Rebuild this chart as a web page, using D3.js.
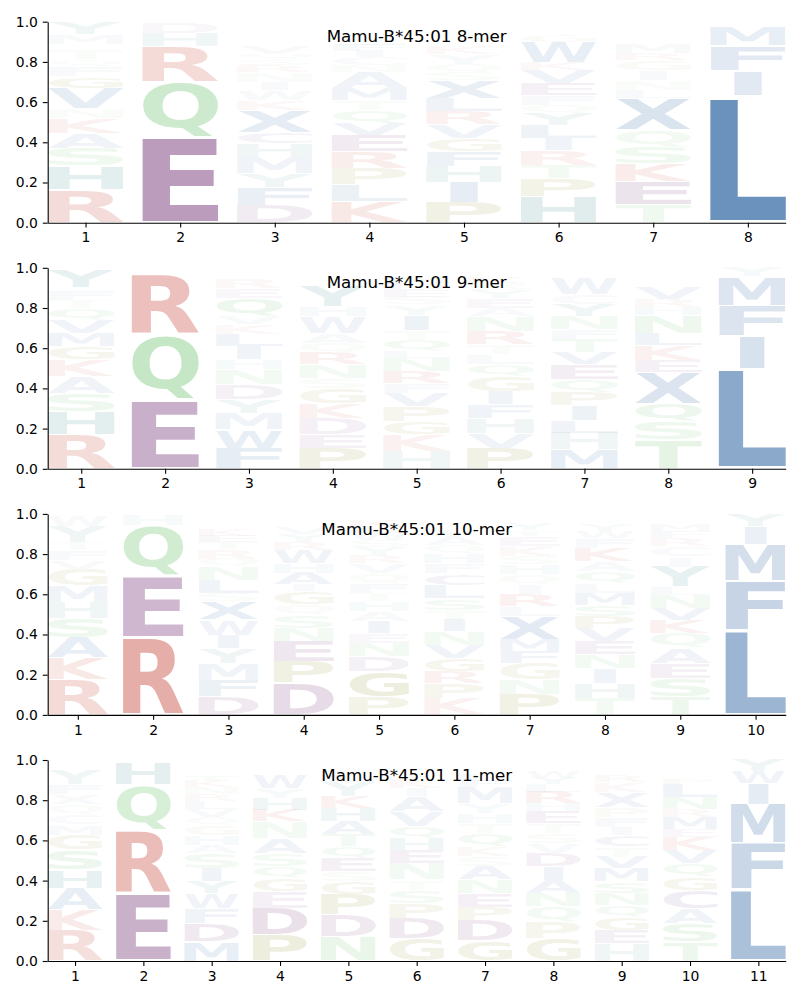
<!DOCTYPE html>
<html><head><meta charset="utf-8">
<script src="https://cdn.jsdelivr.net/npm/d3@7"></script>
<style>body{margin:0;background:#fff} svg{display:block}</style>
</head><body><svg id="chart" width="800" height="1000"></svg>
<script>
// ---------- DATA (letters listed bottom -> top, with their frequency) ----------
const titles = ["Mamu-B*45:01 8-mer", "Mamu-B*45:01 9-mer", "Mamu-B*45:01 10-mer", "Mamu-B*45:01 11-mer"];
const yTicks = [0, 0.2, 0.4, 0.6, 0.8, 1.0];

const letters8 = ["RHSAKNVGFQTIMY","EQRHD","DFYMHCXKWINRSQVEGAPLT","KLPREVQTMANCIFSGDYHW",
  "PIHFGVRLXSQYKNAMTEDW","HPTRILYQFEVKWGSNMA","TEKSQXLNIGRMFVYADW","LIFMY"];
const heights8 = [
  [.166,.116,.088,.075,.075,.05,.1,.058,.05,.033,.05,.025,.05,.059],
  [.428,.274,.174,.066,.053],
  [.088,.09,.066,.083,.066,.058,.108,.05,.05,.04,.05,.033,.03,.03,.03,.025,.025,.025,.02,.015,.015],
  [.104,.083,.083,.083,.083,.058,.066,.05,.058,.083,.033,.04,.03,.03,.03,.025,.02,.02,.01,.009],
  [.1,.1,.08,.075,.066,.066,.066,.066,.09,.04,.04,.05,.04,.025,.02,.02,.02,.015,.01,.006],
  [.13,.09,.066,.075,.058,.066,.058,.04,.05,.058,.066,.04,.1,.033,.02,.02,.015,.011],
  [.088,.116,.09,.083,.083,.158,.04,.05,.05,.05,.033,.05,.025,.02,.02,.02,.013,.01],
  [.63,.125,.125,.095,.025]
];

const letters9 = ["RHSAKGMVQTFLY","EQRDH","FWMYDNHILKVQERSTAP","PEDKGSNRQAWHYTVFLM",
  "HKGPVFRNLQTIYSEDMWC","PVHFIGQLTRNAEYSKDMW","MHLIPQEVTFNYCWKRSA","TSQXEKLNHRVMFYAW","LIFMY"];
const heights9 = [
  [.169,.116,.091,.083,.083,.066,.066,.066,.058,.04,.05,.016,.09],
  [.343,.323,.298,.02,.016],
  [.103,.091,.083,.066,.075,.075,.05,.066,.058,.05,.04,.091,.05,.05,.02,.015,.01,.008],
  [.103,.066,.083,.075,.075,.05,.066,.058,.05,.05,.083,.05,.1,.025,.02,.02,.015,.014],
  [.086,.083,.066,.075,.066,.05,.058,.066,.033,.058,.05,.075,.05,.04,.035,.03,.03,.025,.025],
  [.103,.075,.075,.066,.066,.075,.058,.05,.05,.066,.075,.04,.05,.04,.03,.03,.025,.015,.012],
  [.094,.085,.06,.075,.066,.066,.075,.058,.066,.05,.066,.058,.05,.083,.02,.015,.01,.008],
  [.144,.091,.091,.154,.061,.075,.058,.091,.04,.04,.058,.025,.02,.02,.015,.014],
  [.495,.166,.151,.144,.044]
];

const letters10 = ["RKASHMGVFTYW","REQH","DFMYIWXSLNQRTEKCGAP","DPENSQGIAHWRYVKTLM",
  "PGDNEIAHTFQVRYSWLKMC","KPRGVNITSLCFHQAYEDMW","PNGFMXLRIQHSKETYADW","THINEVPSMLQAKFWYRGD",
  "TSEAQKVNLYICRFMWHG","LFMIY"];
const heights10 = [
  [.174,.108,.1,.096,.083,.083,.083,.04,.05,.04,.083,.055],
  [.385,.308,.252,.055],
  [.091,.083,.083,.075,.066,.075,.091,.04,.066,.066,.04,.05,.035,.03,.03,.025,.02,.016,.015],
  [.158,.108,.1,.066,.066,.05,.066,.033,.058,.05,.066,.04,.04,.03,.025,.02,.013,.01],
  [.091,.124,.075,.066,.05,.058,.05,.05,.04,.05,.05,.05,.04,.04,.035,.035,.03,.03,.02,.014],
  [.083,.075,.058,.066,.066,.066,.058,.05,.058,.066,.058,.05,.05,.04,.04,.03,.025,.02,.02,.018],
  [.1,.075,.083,.058,.058,.116,.05,.058,.05,.05,.05,.04,.05,.05,.03,.03,.02,.018,.015],
  [.083,.075,.075,.066,.066,.066,.058,.058,.058,.05,.058,.05,.066,.05,.035,.03,.025,.016,.015],
  [.091,.091,.075,.075,.075,.066,.058,.066,.04,.1,.05,.05,.04,.035,.03,.025,.016,.015],
  [.423,.244,.182,.088,.063]
];

const letters11 = ["RKAHSGMCQXFYWTV","ERQHD","MDFWYISAHGQVLRNKTECPX","PDEGQSANKHYWLVMTF",
  "NDPGSEQTAHKYLVFMW","GDPSTNEHQVAIKYLFMW","GDPENASKQTHYMFLWIRC","GPQNAIDVSTEHRLYWFMK",
  "HEGQNSMVTCIFPXKRYDWL","TSACGQVKEMRNLPFIYW","LFMIWY"];
const heights11 = [
  [.154,.1,.108,.091,.1,.075,.05,.05,.05,.05,.05,.075,.02,.015,.015],
  [.337,.315,.224,.108,.016],
  [.096,.091,.075,.075,.058,.066,.075,.04,.05,.05,.04,.04,.04,.033,.035,.03,.03,.025,.02,.015,.011],
  [.129,.133,.083,.066,.058,.066,.075,.083,.058,.058,.05,.066,.02,.02,.015,.01,.01],
  [.121,.108,.1,.066,.05,.066,.058,.058,.066,.066,.058,.075,.03,.025,.02,.018,.015],
  [.113,.1,.075,.066,.05,.083,.066,.058,.058,.075,.075,.04,.05,.025,.02,.02,.015,.011],
  [.1,.103,.066,.07,.066,.066,.05,.05,.066,.05,.05,.046,.083,.03,.03,.025,.02,.015,.013],
  [.113,.083,.075,.066,.066,.066,.066,.05,.05,.05,.058,.04,.058,.04,.03,.03,.02,.02,.016],
  [.088,.066,.066,.058,.058,.058,.066,.058,.05,.058,.04,.05,.05,.075,.05,.03,.025,.02,.018,.015],
  [.096,.091,.075,.091,.066,.066,.066,.066,.04,.058,.04,.058,.066,.03,.025,.025,.02,.016],
  [.357,.229,.194,.104,.058,.058]
];

// residue colour groups
const groupHydrophobic = "AVLIMFWX";
const groupPositive = "KR";
const groupNegative = "DE";
const groupPolar = "STNQ";
const groupSpecial = "GP";
const groupAromaticH = "HY";
const groupCys = "C";
const groupColors = ["rgb(20,80,150)", "rgb(190,45,30)", "rgb(96,24,99)", "rgb(75,180,75)",
  "rgb(120,120,0)", "rgb(20,110,110)", "rgb(100,70,150)"];

// ---------- DRAWING ----------
const groups = [groupHydrophobic, groupPositive, groupNegative, groupPolar, groupSpecial, groupAromaticH, groupCys];
function colorOf(ch){
  for (let i = 0; i < groups.length; i++) if (groups[i].includes(ch)) return groupColors[i];
  return "#888";
}
const panels = [
  {title: titles[0], letters: letters8, heights: heights8},
  {title: titles[1], letters: letters9, heights: heights9},
  {title: titles[2], letters: letters10, heights: heights10},
  {title: titles[3], letters: letters11, heights: heights11}
];

const FONT = "'DejaVu Sans', 'Liberation Sans', sans-serif";
const canvas = document.createElement("canvas");
const ctx = canvas.getContext("2d");
ctx.font = "bold 100px 'DejaVu Sans'";
const metricCache = {};
function metrics(ch){
  if (!metricCache[ch]) {
    const m = ctx.measureText(ch);
    metricCache[ch] = {l: m.actualBoundingBoxLeft, r: m.actualBoundingBoxRight,
                       a: m.actualBoundingBoxAscent, d: m.actualBoundingBoxDescent};
  }
  return metricCache[ch];
}
const eM = metrics("E");
const eW = eM.l + eM.r;

const svg = d3.select("#chart");
const left = 47.7, width = 738, plotH = 201, firstTop = 21.7, step = 246.1;
const colWidth = 0.8, vpad = 0.05;

panels.forEach((p, i) => {
  const top = firstTop + i * step;
  const n = p.letters.length;
  const positions = d3.range(1, n + 1);
  const x = d3.scaleLinear().domain([0.6, n + 0.4]).range([left, left + width]);
  const y = d3.scaleLinear().domain([0, 1]).range([top + plotH, top]);
  const g = svg.append("g");

  // build glyph records
  const glyphs = [];
  positions.forEach((pos, j) => {
    let cum = 0;
    const ls = p.letters[j], hs = p.heights[j];
    for (let k = 0; k < ls.length; k++) {
      const h = hs[k];
      glyphs.push({pos, ch: ls[k], y0: cum + h * vpad / 2, y1: cum + h - h * vpad / 2, h});
      cum += h;
    }
  });

  g.selectAll("text.glyph").data(glyphs).join("text")
    .attr("class", "glyph")
    .attr("font-family", "'DejaVu Sans'")
    .attr("font-weight", "bold")
    .attr("font-size", 100)
    .attr("fill", d => colorOf(d.ch))
    .attr("fill-opacity", d => Math.min(1, d.h))
    .attr("transform", d => {
      const m = metrics(d.ch);
      const rx0 = x(d.pos - colWidth / 2), rx1 = x(d.pos + colWidth / 2);
      const ry0 = y(d.y1), ry1 = y(d.y0);
      const gw = m.l + m.r, gh = m.a + m.d;
      const sx = (rx1 - rx0) / Math.max(gw, eW);
      const sy = (ry1 - ry0) / gh;
      const offx = rx0 + ((rx1 - rx0) - gw * sx) / 2;
      return `translate(${offx + m.l * sx},${ry0 + m.a * sy}) scale(${sx},${sy})`;
    })
    .text(d => d.ch);

  // axes
  const ya = g.append("g").attr("transform", `translate(${left},0)`)
    .call(d3.axisLeft(y).tickValues(yTicks).tickFormat(d3.format(".1f"))
      .tickSize(4.9).tickPadding(4.9).tickSizeOuter(0));
  const xa = g.append("g").attr("transform", `translate(0,${top + plotH})`)
    .call(d3.axisBottom(x).tickValues(positions).tickFormat(d3.format("d"))
      .tickSize(4.9).tickPadding(4.9).tickSizeOuter(0));
  [ya, xa].forEach(a => {
    a.attr("font-family", FONT).attr("font-size", 13.9);
    a.selectAll("path, line").attr("stroke", "#000").attr("stroke-width", 1.1);
    a.selectAll("text").attr("fill", "#000");
  });

  g.append("text")
    .attr("x", left + width / 2).attr("y", top + 20.6)
    .attr("text-anchor", "middle")
    .attr("font-family", FONT).attr("font-size", 16.7).attr("fill", "#000")
    .text(p.title);
});
</script>
</body></html>
